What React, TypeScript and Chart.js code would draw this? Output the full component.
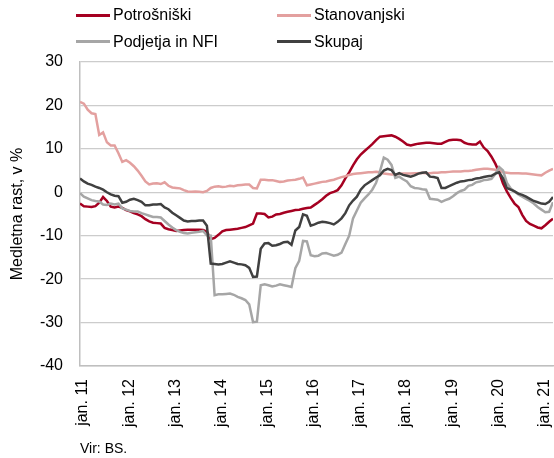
import React, { useEffect, useRef } from 'react';
import { Chart, registerables } from 'chart.js';

Chart.register(...registerables);

// Tick labels
const xTickLabels = ['jan. 11', 'jan. 12', 'jan. 13', 'jan. 14', 'jan. 15', 'jan. 16', 'jan. 17', 'jan. 18', 'jan. 19', 'jan. 20', 'jan. 21'];
const yTickValues = [30, 20, 10, 0, -10, -20, -30, -40];

// Monthly series, jan. 2011 - apr. 2021
const potrosniski = [
  -2.6, -3.2, -3.3, -3.4, -3.2, -2.4, -1.1, -2.0, -3.3, -3.5, -3.3, -3.6,
  -4.1, -4.4, -4.8, -5.1, -5.5, -6.2, -6.7, -7.0, -7.1, -7.2, -8.2, -8.5,
  -8.7, -8.9, -8.8, -8.7, -8.6, -8.6, -8.6, -8.6, -8.7, -9.1, -10.8, -10.5,
  -9.8, -9.0, -8.7, -8.6, -8.5, -8.4, -8.2, -8.0, -7.6, -7.2, -4.9, -4.9,
  -5.0, -5.8, -5.6, -5.1, -5.0, -4.7, -4.5, -4.3, -4.1, -4.0, -3.8, -3.6,
  -3.5, -2.9, -2.3, -1.6, -0.8, -0.2, 0.1, 0.5, 1.6, 3.2, 4.6, 6.2,
  7.6, 8.7, 9.5, 10.3, 11.1, 12.0, 12.8, 12.9, 13.0, 13.1, 12.8, 12.3,
  11.7, 11.0, 10.8, 11.0, 11.2, 11.3, 11.4, 11.4, 11.3, 11.2, 11.2, 11.6,
  12.0, 12.1, 12.1, 12.0, 11.4, 11.1, 11.0, 11.0, 11.7, 10.3, 9.5, 8.2,
  6.6, 4.6, 2.0, 0.2, -1.3, -2.6, -3.4, -5.2, -6.6, -7.3, -7.7, -8.1,
  -8.3, -7.6, -6.8, -6.1,
];

const stanovanjski = [
  20.8, 20.4, 19.0, 18.2, 18.0, 13.2, 13.8, 11.5, 10.8, 10.8, 9.0, 7.0,
  7.4, 6.8, 6.0, 5.0, 3.8, 2.5, 1.8, 2.0, 2.1, 1.9, 2.3, 1.5,
  1.1, 1.0, 0.9, 0.5, 0.2, 0.1, 0.2, 0.1, 0.0, 0.3, 1.0, 1.3,
  1.4, 1.2, 1.3, 1.5, 1.4, 1.6, 1.7, 1.8, 1.8, 1.0, 0.9, 2.9,
  2.9, 2.8, 2.8, 2.6, 2.4, 2.5, 2.7, 2.8, 2.9, 3.1, 3.4, 1.6,
  1.8, 2.0, 2.2, 2.4, 2.5, 2.7, 2.9, 3.2, 3.5, 3.7, 4.0, 4.2,
  4.3, 4.4, 4.5, 4.6, 4.6, 4.7, 4.6, 4.3, 4.2, 4.1, 4.1, 4.2,
  4.3, 4.3, 4.3, 4.4, 4.4, 4.5, 4.4, 4.4, 4.5, 4.5, 4.6, 4.6,
  4.7, 4.8, 4.8, 4.8, 4.9, 4.9, 5.0, 5.2, 5.3, 5.4, 5.4, 5.3,
  5.2, 5.0, 4.6, 4.5, 4.4, 4.4, 4.4, 4.3, 4.3, 4.2, 4.1, 4.0,
  3.9, 4.5, 5.0, 5.4,
];

const podjetjaNFI = [
  -0.2, -1.0, -1.4, -1.8, -2.0, -2.1, -2.8, -2.9, -2.6, -2.8, -2.6, -3.7,
  -4.0, -4.3, -4.4, -4.4, -4.8, -5.1, -5.4, -5.7, -5.7, -5.8, -6.6, -7.4,
  -8.1, -8.7, -9.1, -9.4, -9.5, -9.3, -9.2, -9.1, -8.9, -9.9, -10.0, -23.7,
  -23.5, -23.5, -23.4, -23.3, -23.6, -24.1, -24.4, -24.8, -25.8, -29.9, -29.8, -21.4,
  -21.2, -21.4, -21.7, -21.5, -21.2, -21.4, -21.6, -21.8, -17.5, -15.8, -11.2, -11.3,
  -14.5, -14.7, -14.6, -14.1, -14.0, -14.3, -14.6, -14.4, -13.9, -11.9, -10.0, -6.0,
  -4.2, -2.4, -1.4, -0.5, 0.6, 2.2, 4.8, 8.0, 7.5, 6.3, 3.3, 3.6,
  3.0, 2.5, 1.4, 1.0, 0.9, 0.7, 0.6, -1.5, -1.6, -1.7, -2.2, -1.8,
  -1.5, -0.9, -0.2, 0.3, 0.6, 1.5, 1.7, 2.3, 2.5, 2.8, 2.9, 3.1,
  4.2, 5.8, 5.0, 2.2, 0.9, 0.2, -0.5, -1.0, -1.5, -2.0, -2.6, -3.4,
  -4.0, -4.6, -4.5, -2.3,
];

const skupaj = [
  3.2, 2.5, 2.0, 1.7, 1.3, 1.0, 0.6, 0.0, -0.5, -0.8, -0.9, -2.4,
  -2.2, -1.7, -1.5, -1.8, -2.2, -3.0, -3.0, -2.8, -2.8, -2.7, -3.5, -3.9,
  -4.7, -5.3, -5.9, -6.5, -6.7, -6.6, -6.6, -6.5, -6.5, -7.7, -16.4, -16.5,
  -16.6, -16.5, -16.2, -15.9, -16.2, -16.5, -16.6, -16.8, -17.4, -19.5, -19.4, -13.0,
  -11.8, -11.7, -12.3, -12.2, -11.9, -11.5, -11.4, -12.1, -8.8, -8.0, -5.1, -5.4,
  -7.7, -7.4, -7.0, -6.8, -6.9, -7.1, -7.4, -6.8, -6.0, -4.8, -3.0, -1.9,
  -1.0, 0.6, 1.6, 2.2, 2.8, 3.4, 3.9, 5.0, 5.4, 5.1, 4.0, 4.4,
  4.0, 3.8, 3.6, 3.9, 4.3, 4.5, 4.6, 3.6, 3.5, 3.3, 1.0, 1.0,
  1.4, 1.8, 2.2, 2.5, 2.6, 2.8, 2.9, 3.2, 3.3, 3.5, 3.7, 3.8,
  4.3, 4.6, 3.2, 1.0, 0.6, 0.2, -0.3, -0.6, -1.0, -1.5, -2.0, -2.3,
  -2.6, -2.7, -2.2, -1.1,
];

const FONT = '"Liberation Sans", Arial, sans-serif';
const COLORS = {
  potrosniski: '#a50021',
  stanovanjski: '#e3a09f',
  podjetja: '#a6a6a6',
  skupaj: '#404040',
};

const legendItems = [
  { label: 'Potrošniški', color: COLORS.potrosniski, left: 76, y: 15 },
  { label: 'Stanovanjski', color: COLORS.stanovanjski, left: 277, y: 15 },
  { label: 'Podjetja in NFI', color: COLORS.podjetja, left: 76, y: 41.5 },
  { label: 'Skupaj', color: COLORS.skupaj, left: 277, y: 41.5 },
];

const toXY = (arr: number[]) => arr.map((v, i) => ({ x: i, y: v }));

export default function App() {
  const canvasRef = useRef<HTMLCanvasElement | null>(null);

  useEffect(() => {
    document.body.style.margin = '0';
    const canvas = canvasRef.current;
    if (!canvas) return;
    const n = potrosniski.length;
    const line = (label: string, data: number[], color: string) => ({
      label,
      data: toXY(data),
      borderColor: color,
      backgroundColor: color,
      borderWidth: 2.5,
      pointRadius: 0,
      tension: 0,
      fill: false,
    });
    const chart = new Chart(canvas, {
      type: 'line',
      data: {
        datasets: [
          line('Skupaj', skupaj, COLORS.skupaj),
          line('Podjetja in NFI', podjetjaNFI, COLORS.podjetja),
          line('Stanovanjski', stanovanjski, COLORS.stanovanjski),
          line('Potrošniški', potrosniski, COLORS.potrosniski),
        ],
      },
      options: {
        animation: false,
        responsive: false,
        maintainAspectRatio: false,
        layout: { padding: { top: 62, right: 1, bottom: 0, left: 0 } },
        plugins: {
          legend: { display: false },
          tooltip: { enabled: false },
        },
        scales: {
          x: {
            type: 'linear',
            min: 0,
            max: n - 1,
            afterBuildTicks: (scale: any) => {
              scale.ticks = xTickLabels.map((_, k) => ({ value: k * 12 }));
            },
            afterFit: (scale: any) => {
              scale.height = 92;
              scale.paddingLeft = 0;
              scale.paddingRight = 0;
            },
            ticks: {
              autoSkip: false,
              minRotation: 90,
              maxRotation: 90,
              padding: 13,
              labelOffset: 3,
              color: '#000',
              font: { family: FONT, size: 16 },
              callback: (v: any) => xTickLabels[Math.round(Number(v) / 12)] ?? '',
            },
            grid: { display: false, drawTicks: false },
            border: { display: true, color: '#bfbfbf', width: 1.5 },
          },
          y: {
            min: -40,
            max: 30,
            afterBuildTicks: (scale: any) => {
              scale.ticks = yTickValues.map((v) => ({ value: v }));
            },
            afterFit: (scale: any) => {
              scale.width = 80;
              scale.paddingTop = 0;
              scale.paddingBottom = 0;
            },
            ticks: {
              padding: 17,
              color: '#000',
              font: { family: FONT, size: 16 },
            },
            grid: { color: '#cccccc', lineWidth: 1.3, drawTicks: false },
            border: { display: true, color: '#bfbfbf', width: 1.5 },
            title: {
              display: true,
              text: 'Medletna rast, v %',
              color: '#000',
              font: { family: FONT, size: 16 },
              padding: { top: 8, bottom: 0 },
            },
          },
        },
      },
    } as any);
    return () => chart.destroy();
  }, []);

  return (
    <div style={{ position: 'relative', width: 554, height: 458, fontFamily: FONT, color: '#000' }}>
      <canvas ref={canvasRef} width={554} height={458} style={{ position: 'absolute', left: 0, top: 0, width: 554, height: 458 }} />
      {legendItems.map((it) => (
        <React.Fragment key={it.label}>
          <div
            style={{
              position: 'absolute',
              left: it.left,
              top: it.y - 1.5,
              width: 34,
              height: 3,
              background: it.color,
            }}
          />
          <div
            style={{
              position: 'absolute',
              left: it.left + 37,
              top: it.y - 8,
              fontSize: 16,
              lineHeight: '16px',
              whiteSpace: 'nowrap',
            }}
          >
            {it.label}
          </div>
        </React.Fragment>
      ))}
      <div
        style={{
          position: 'absolute',
          left: 80,
          top: 441,
          fontSize: 14,
          lineHeight: '14px',
          whiteSpace: 'nowrap',
        }}
      >
        Vir: BS.
      </div>
    </div>
  );
}
